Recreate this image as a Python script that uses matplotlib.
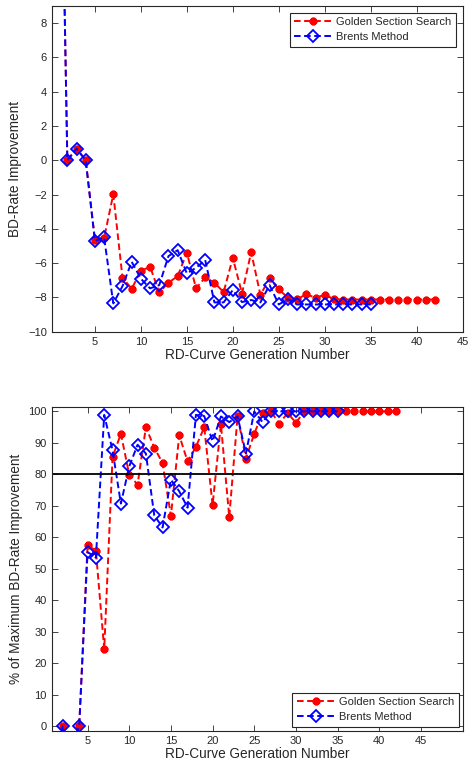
import matplotlib
matplotlib.use('Agg')
import matplotlib.pyplot as plt

plt.rcParams['font.family'] = ['Liberation Sans', 'DejaVu Sans']

# Generation numbers for each search method.
gssGen = list(range(1, 43))
brentGen = list(range(1, 36))

# BD-rate improvement per generation (top panel).
gssBD = [30.0, 0.0, 0.68, 0.0, -4.62, -4.52, -1.98, -6.85, -7.49, -6.45,
         -6.21, -7.71, -7.14, -6.76, -5.38, -7.47, -6.83, -7.14, -7.69, -5.69,
         -7.77, -5.36, -7.85, -6.89, -7.53, -8.02, -8.10, -7.81, -8.02, -7.84,
         -8.10, -8.12, -8.12, -8.12, -8.12, -8.12, -8.12, -8.12, -8.12, -8.12,
         -8.12, -8.12]
brentBD = [30.0, 0.0, 0.68, 0.0, -4.70, -4.50, -8.35, -7.34, -5.92, -6.91,
           -7.47, -7.28, -5.59, -5.24, -6.60, -6.27, -5.82, -8.29, -8.29, -7.57,
           -8.27, -8.15, -8.29, -7.28, -8.41, -8.10, -8.41, -8.41, -8.41, -8.41,
           -8.41, -8.41, -8.41, -8.41, -8.41]

# Percentage of the maximum improvement reached (bottom panel).
gssPct = [-340.0, 0.0, -8.0, 0.0, 57.5, 55.7, 24.4, 85.5, 92.9, 79.9,
          76.7, 95.0, 88.5, 83.6, 66.8, 92.4, 84.1, 88.7, 95.0, 70.2,
          95.9, 66.4, 98.5, 85.0, 92.9, 99.5, 100.0, 96.1, 99.5, 96.4,
          100.0, 100.0, 100.0, 100.0, 100.0, 100.0, 100.0, 100.0, 100.0, 100.0,
          100.0, 100.0]
brentPct = [-340.0, 0.0, -8.0, 0.0, 55.3, 53.5, 98.9, 87.6, 70.7, 82.5,
            89.4, 86.6, 67.0, 63.1, 78.3, 74.6, 69.4, 98.9, 98.5, 90.5,
            98.4, 96.6, 98.4, 86.6, 100.0, 96.6, 100.0, 100.0, 100.0, 100.0,
            100.0, 100.0, 100.0, 100.0, 100.0]

threshold = 80
xTicks = [5, 10, 15, 20, 25, 30, 35, 40, 45]

axisCol = '#262626'
asterisk = (8, 2, 0)


def styleAxes(ax):
    for side in ax.spines.values():
        side.set_color(axisCol)
        side.set_linewidth(0.8)
    ax.tick_params(direction='in', top=True, right=True, length=4,
                   width=0.6, color=axisCol, labelcolor=axisCol, labelsize=8)


def drawSeries(ax, xg, yg, xb, yb):
    ax.plot(xg, yg, color='red', linestyle='--', linewidth=1.4, dashes=(3.4, 1.8),
            marker=asterisk, markersize=5.5, markeredgewidth=2.0,
            markerfacecolor='red', markeredgecolor='red',
            label='Golden Section Search')
    ax.plot(xb, yb, color='blue', linestyle='--', linewidth=1.4, dashes=(3.4, 1.8),
            marker='D', markersize=6, markeredgewidth=1.3,
            markerfacecolor='none', markeredgecolor='blue',
            label='Brents Method')


def addLegend(ax, where, pad):
    leg = ax.legend(loc=where, fontsize=8, handlelength=3.4, handletextpad=0.4,
                    fancybox=False, edgecolor=axisCol, framealpha=1,
                    borderpad=0.4, labelspacing=0.45, borderaxespad=pad)
    leg.get_frame().set_linewidth(0.8)
    for txt in leg.get_texts():
        txt.set_color(axisCol)


fig = plt.figure(figsize=(4.68, 7.72), dpi=100)
axTop = fig.add_axes([0.1105, 0.5703, 0.878, 0.4219])
axBot = fig.add_axes([0.1105, 0.0535, 0.878, 0.4197])

# Top panel: raw BD-rate improvement.
drawSeries(axTop, gssGen, gssBD, brentGen, brentBD)
axTop.set_xlim(0.3, 45)
axTop.set_ylim(-10, 9)
axTop.set_xticks(xTicks)
axTop.set_yticks(range(-10, 9, 2))
axTop.set_xlabel('RD-Curve Generation Number', fontsize=9.8, color=axisCol, labelpad=1)
axTop.set_ylabel('BD-Rate Improvement', fontsize=9.8, color=axisCol, labelpad=4)
styleAxes(axTop)
addLegend(axTop, 'upper right', 0.6)

# Bottom panel: percentage of the best improvement.
drawSeries(axBot, gssGen, gssPct, brentGen, brentPct)
axBot.axhline(threshold, color='black', linewidth=1.3)
axBot.set_xlim(0.7, 50)
axBot.set_ylim(-1.5, 101.5)
axBot.set_xticks(xTicks)
axBot.set_yticks(range(0, 101, 10))
axBot.set_xlabel('RD-Curve Generation Number', fontsize=9.8, color=axisCol, labelpad=1)
axBot.set_ylabel('% of Maximum BD-Rate Improvement', fontsize=9.8, color=axisCol, labelpad=4)
styleAxes(axBot)
addLegend(axBot, 'lower right', 0.35)

fig.savefig('out.png', dpi=100)
